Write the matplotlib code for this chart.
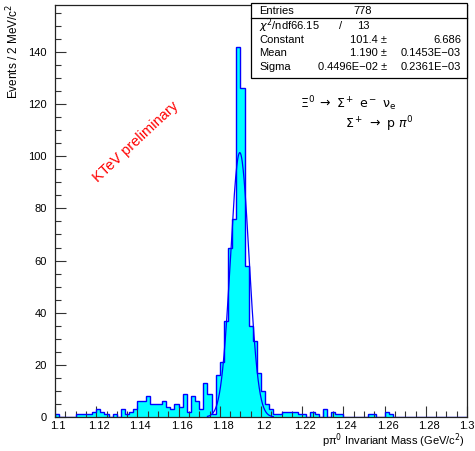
import numpy as np
import matplotlib
matplotlib.use("Agg")
import matplotlib.pyplot as plt
from matplotlib.patches import Rectangle
from matplotlib.lines import Line2D
from matplotlib.ticker import MultipleLocator
from matplotlib.transforms import ScaledTranslation

# histogram: 100 bins of 2 MeV from 1.1 to 1.3 GeV
bin_lo = 1.1
bin_hi = 1.3
n_bins = 100
counts = [
    1, 0, 0, 0, 0, 1, 1, 1, 1, 2,
    3, 2, 1, 0, 1, 0, 3, 1, 2, 3,
    6, 6, 8, 5, 5, 5, 6, 4, 3, 5,
    4, 9, 2, 8, 6, 3, 13, 9, 1, 16,
    21, 37, 65, 76, 142, 126, 58, 35, 29, 17,
    10, 5, 3, 1, 1, 2, 2, 2, 2, 1,
    1, 0, 2, 1, 0, 3, 0, 2, 1, 1,
    0, 0, 0, 0, 0, 0, 1, 1, 0, 0,
    2, 1, 0, 0, 0, 0, 0, 0, 0, 0,
    0, 0, 0, 0, 0, 0, 0, 0, 0, 0,
]

# gaussian fit
fit_const = 101.4
fit_mean = 1.1897
fit_sigma = 0.004496
fit_range = (1.174, 1.206)

stats_rows = [
    ("Constant", "101.4 \u00b1", "6.686"),
    ("Mean", "1.190 \u00b1", "0.1453E\u221203"),
    ("Sigma", "0.4496E\u221202 \u00b1", "0.2361E\u221203"),
]
entries = "778"
chi2 = "66.15"
ndf = "13"

xticks = [1.1, 1.12, 1.14, 1.16, 1.18, 1.2, 1.22, 1.24, 1.26, 1.28, 1.3]
xticklabels = ["1.1", "1.12", "1.14", "1.16", "1.18", "1.2", "1.22", "1.24", "1.26", "1.28", "1.3"]
yticks = [0, 20, 40, 60, 80, 100, 120, 140]

W, H = 475, 451
plt.rcParams["font.family"] = ["Liberation Sans", "DejaVu Sans"]
fig = plt.figure(figsize=(W / 100, H / 100), dpi=100)


def fx(px):
    return px / W


def fy(py):
    return 1 - py / H


ax = fig.add_axes([fx(55), fy(417), fx(467) - fx(55), fy(5) - fy(417)])

edges = np.linspace(bin_lo, bin_hi, n_bins + 1)
ax.stairs(counts, edges, fill=True, color="#00ffff", zorder=1)
ax.stairs(counts, edges, color="#0000ff", lw=1.0, zorder=2)

xf = np.linspace(fit_range[0], fit_range[1], 300)
yf = fit_const * np.exp(-0.5 * ((xf - fit_mean) / fit_sigma) ** 2)
ax.plot(xf, yf, color="#0000ff", lw=0.9, zorder=3)

ax.set_xlim(bin_lo, bin_hi)
ax.set_ylim(0, 158)
ax.set_xticks(xticks)
ax.set_xticklabels(xticklabels)
ax.set_yticks(yticks)
ax.xaxis.set_minor_locator(MultipleLocator(0.005))
ax.yaxis.set_minor_locator(MultipleLocator(5))
ax.tick_params(which="both", direction="in", top=False, right=False,
               labelsize=8, width=0.8, color="#333333")
ax.tick_params(which="major", length=8)
ax.tick_params(which="minor", length=4)
ax.tick_params(axis="x", pad=3)
ax.tick_params(axis="y", pad=6)
# PAW puts the x labels a touch right of the ticks (last one stays inside the canvas)
shift = ScaledTranslation(3 / 100, 0, fig.dpi_scale_trans)
for lbl in ax.get_xticklabels()[:-1]:
    lbl.set_transform(lbl.get_transform() + shift)
for sp in ax.spines.values():
    sp.set_linewidth(0.9)
    sp.set_color("#222222")

fig.text(fx(13), fy(4), "Events / 2 MeV/c$^2$", rotation=90, ha="center", va="top",
         fontsize=8.5)
fig.text(fx(465), fy(441), "p\u03c0$^0$ Invariant Mass (GeV/c$^2$)", ha="right",
         va="center", fontsize=8)

# stats box
box = Rectangle((fx(251), fy(78)), fx(467) - fx(251), fy(3) - fy(78),
                transform=fig.transFigure, facecolor="white", edgecolor="black",
                lw=0.9, zorder=10)
fig.patches.append(box)
fig.lines.append(Line2D([fx(251), fx(467)], [fy(18), fy(18)],
                        transform=fig.transFigure, color="black", lw=0.9, zorder=11))
fs = 8
fig.text(fx(259), fy(11), "Entries", fontsize=fs, va="center", zorder=12)
fig.text(fx(372), fy(11), entries, fontsize=fs, va="center", ha="right", zorder=12)
fig.text(fx(259), fy(26), "$\\chi^2$/ndf" + chi2, fontsize=fs, va="center", zorder=12)
fig.text(fx(341), fy(26), "/", fontsize=fs, va="center", ha="center", zorder=12)
fig.text(fx(370), fy(26), ndf, fontsize=fs, va="center", ha="right", zorder=12)
for i, (name, val, err) in enumerate(stats_rows):
    yy = fy(40 + 13.5 * i)
    fig.text(fx(259), yy, name, fontsize=fs, va="center", zorder=12)
    fig.text(fx(387), yy, val, fontsize=fs, va="center", ha="right", zorder=12)
    fig.text(fx(461), yy, err, fontsize=fs, va="center", ha="right", zorder=12)

fig.text(fx(300), fy(104),
         r"$\Xi^0 \;\rightarrow\; \Sigma^+\ \mathrm{e}^-\ \mathrm{\nu}_\mathrm{e}$",
         fontsize=9, va="center", ha="left")
fig.text(fx(345), fy(124), r"$\Sigma^+ \;\rightarrow\; \mathrm{p}\ \pi^0$", fontsize=9,
         va="center", ha="left")

fig.text(fx(136), fy(142), "KTeV preliminary", color="red", rotation=43,
         rotation_mode="anchor", ha="center", va="center", fontsize=10.5)

fig.savefig("out.png", dpi=100)
